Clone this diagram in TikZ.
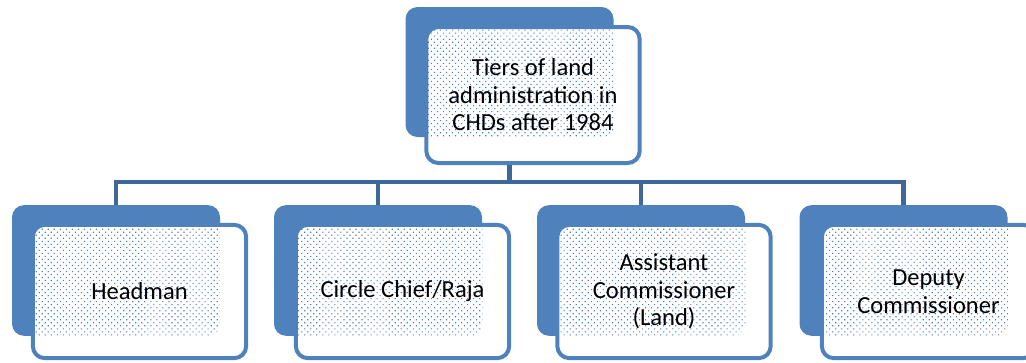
\documentclass[tikz,border=0pt]{standalone}
\usepackage{fontspec}
\setmainfont{Carlito}
\usetikzlibrary{positioning, patterns.meta}
\definecolor{boxblue}{RGB}{79,129,189}
\definecolor{linkblue}{RGB}{62,104,155}

\begin{document}
\begin{tikzpicture}[x=0.75pt, y=-0.75pt,
  backbox/.style={rectangle, rounded corners=9pt, fill=boxblue,
    minimum width=156pt, minimum height=98pt},
  frontbox/.style={rectangle, rounded corners=9pt, draw=boxblue, line width=3pt,
    fill=white, minimum width=160pt, minimum height=100pt, align=center,
    font=\fontsize{18.4pt}{20.6pt}\selectfont,
    path picture={\fill[dotfill]
      (#1.south west) rectangle (#1.north east);}},
  dotfill/.style={pattern={Dots[radius=0.6pt, distance=3.2pt, angle=45]},
    pattern color=boxblue},
  link/.style={draw=linkblue, line width=3.5pt}]
  \useasboundingbox (0,0) rectangle (1026,362);
  % Top tier
  \node[backbox, minimum height=97.5pt] (topback) at (509.5,72) {};
  \node[frontbox=topback, minimum height=102pt,
    path picture={\fill[dotfill]
      (topback.south west) rectangle (topback.north east)
      (508,137) rectangle (510,163);}]
    (top) at (533,95) {Tiers of land\\administration in\\CHDs after 1984};
  % Lower tiers
  \node[backbox] (back1) at (116,270.5) {};
  \node[frontbox=back1] (headman) at (139.5,291.5) {Headman};
  \node[backbox] (back2) at (378,270.5) {};
  \node[frontbox=back2] (chief) at (402.5,291.5) {Circle Chief/Raja};
  \node[backbox] (back3) at (641,270.5) {};
  \node[frontbox=back3] (assistant) at (664,291.5) {Assistant\\Commissioner\\(Land)};
  \node[backbox] (back4) at (903.5,270.5) {};
  \node[frontbox=back4] (deputy) at (928.5,291.5) {Deputy\\Commissioner};
  % Connectors
  \coordinate (bus) at (509.5,182);
  \foreach \b in {back1,back2,back3,back4}
    \draw[link] (topback.south |- top.south) |- (bus -| \b.north) -- (\b.north);
\end{tikzpicture}
\end{document}
